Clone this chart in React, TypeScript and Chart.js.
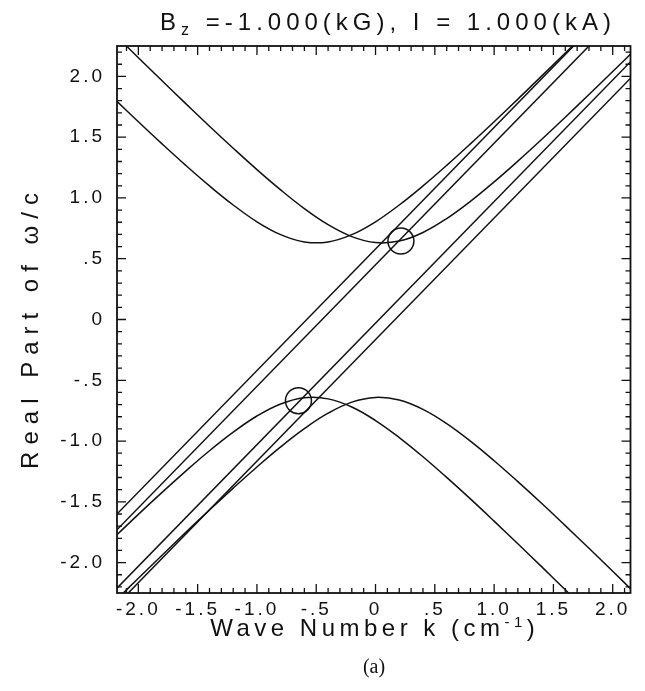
import React, { useEffect, useRef } from "react";
import { Chart, registerables } from "chart.js";

Chart.register(...registerables);

// ---- data ----
const curveX = [-2.2, -2.0, -1.8, -1.6, -1.4, -1.2, -1.0, -0.8, -0.6, -0.4, -0.2, 0, 0.2, 0.4, 0.6, 0.8, 1.0, 1.2, 1.4, 1.6, 1.8, 2.0, 2.2];

// upper branch, minimum near k = 0.06
const upperA = [2.346, 2.154, 1.964, 1.776, 1.590, 1.409, 1.233, 1.066, 0.912, 0.780, 0.682, 0.633, 0.645, 0.716, 0.830, 0.972, 1.132, 1.303, 1.481, 1.664, 1.851, 2.040, 2.231];
// upper branch, minimum near k = -0.5
const upperB = [1.813, 1.627, 1.445, 1.268, 1.099, 0.942, 0.804, 0.698, 0.638, 0.638, 0.698, 0.804, 0.942, 1.099, 1.268, 1.445, 1.627, 1.813, 2.002, 2.192, 2.385, 2.58, 2.77];
// lower branch, maximum near k = 0.03
const lowerA = [-2.320, -2.129, -1.939, -1.751, -1.567, -1.387, -1.213, -1.048, -0.898, -0.771, -0.680, -0.641, -0.663, -0.740, -0.857, -1.001, -1.162, -1.334, -1.512, -1.696, -1.882, -2.071, -2.263];
// lower branch, maximum near k = -0.53
const lowerB = [-1.789, -1.603, -1.422, -1.247, -1.080, -0.927, -0.794, -0.695, -0.644, -0.653, -0.720, -0.831, -0.971, -1.129, -1.299, -1.476, -1.659, -1.845, -2.033, -2.224, -2.416, -2.61, -2.80];

// straight beam lines (end points)
const lineX = [-2.4, 2.4];
const beam1 = [-1.82, 2.98];
const beam2 = [-1.95, 2.85];
const beam3 = [-2.43, 2.37];
const beam4 = [-2.565, 2.235];

// circled crossings
const markX = [0.214, -0.65];
const markY = [0.645, -0.668];

const xTickValues = [-2, -1.5, -1, -0.5, 0, 0.5, 1, 1.5, 2];
const xTickLabels = ["-2.0", "-1.5", "-1.0", "-.5", "0", ".5", "1.0", "1.5", "2.0"];
const yTickValues = [-2, -1.5, -1, -0.5, 0, 0.5, 1, 1.5, 2];
const yTickLabels = ["-2.0", "-1.5", "-1.0", "-.5", "0", ".5", "1.0", "1.5", "2.0"];

const TITLE_MAIN = "B";
const TITLE_SUB = "z";
const TITLE_REST = " =-1.000(kG), I = 1.000(kA)";
const X_TITLE_MAIN = "Wave Number k (cm";
const X_TITLE_SUP = "-1";
const X_TITLE_END = ")";
const Y_TITLE = "Real Part of \u03C9/c";

const FONT = '"Liberation Sans", Arial, sans-serif';
const INK = "#111";

const W = 645;
const H = 691;

function pts(xs: number[], ys: number[]) {
  return xs.map((x, i) => ({ x, y: ys[i] }));
}

function drawRuns(ctx: any, runs: { t: string; font: string; dy: number }[], cx: number, base: number) {
  const widths = runs.map((r) => {
    ctx.font = r.font;
    return ctx.measureText(r.t).width;
  });
  const total = widths.reduce((a, b) => a + b, 0);
  let x0 = cx - total / 2;
  runs.forEach((r, i) => {
    ctx.font = r.font;
    ctx.fillText(r.t, x0, base + r.dy);
    x0 += widths[i];
  });
}

const framePlugin = {
  id: "framePlugin",
  beforeDraw(chart: any) {
    const ctx = chart.ctx;
    ctx.save();
    ctx.fillStyle = "#fff";
    ctx.fillRect(0, 0, chart.width, chart.height);
    ctx.restore();
    ctx.letterSpacing = "3px";
  },
  afterDraw(chart: any) {
    const ctx = chart.ctx;
    const { left, right, top, bottom } = chart.chartArea;
    const xs = chart.scales.x;
    const ys = chart.scales.y;
    ctx.save();
    ctx.strokeStyle = INK;
    ctx.lineWidth = 1.8;
    ctx.strokeRect(left, top, right - left, bottom - top);
    ctx.lineWidth = 1.3;
    ctx.beginPath();
    for (let i = -22; i <= 22; i++) {
      const v = i / 10;
      const major = i % 5 === 0;
      const len = major ? 9 : 5;
      const px = xs.getPixelForValue(v);
      if (px > left + 1 && px < right - 1) {
        ctx.moveTo(px, bottom);
        ctx.lineTo(px, bottom - len);
        ctx.moveTo(px, top);
        ctx.lineTo(px, top + len);
      }
      const py = ys.getPixelForValue(v);
      if (py > top + 1 && py < bottom - 1) {
        ctx.moveTo(left, py);
        ctx.lineTo(left + len, py);
        ctx.moveTo(right, py);
        ctx.lineTo(right - len, py);
      }
    }
    ctx.stroke();

    ctx.fillStyle = INK;
    ctx.textBaseline = "alphabetic";
    ctx.textAlign = "left";

    // chart title with subscript
    ctx.letterSpacing = "5px";
    drawRuns(
      ctx,
      [
        { t: TITLE_MAIN, font: `24px ${FONT}`, dy: 0 },
        { t: TITLE_SUB, font: `16px ${FONT}`, dy: 5 },
        { t: TITLE_REST, font: `24px ${FONT}`, dy: 0 },
      ],
      388,
      30
    );

    // x axis title with superscript
    ctx.letterSpacing = "4.5px";
    drawRuns(
      ctx,
      [
        { t: X_TITLE_MAIN, font: `24px ${FONT}`, dy: 0 },
        { t: X_TITLE_SUP, font: `15px ${FONT}`, dy: -9 },
        { t: X_TITLE_END, font: `24px ${FONT}`, dy: 0 },
      ],
      (left + right) / 2 + 1,
      636
    );

    // y axis title, rotated
    ctx.letterSpacing = "7px";
    ctx.save();
    ctx.translate(38, (top + bottom) / 2 + 8);
    ctx.rotate(-Math.PI / 2);
    drawRuns(ctx, [{ t: Y_TITLE, font: `24px ${FONT}`, dy: 0 }], 0, 0);
    ctx.restore();

    ctx.restore();
  },
};

export default function App() {
  const ref = useRef<HTMLCanvasElement | null>(null);

  useEffect(() => {
    if (!ref.current) return;
    const lineStyle = {
      borderColor: INK,
      borderWidth: 1.5,
      pointRadius: 0,
      fill: false,
      showLine: true,
    };
    const chart = new Chart(ref.current, {
      type: "scatter",
      data: {
        datasets: [
          { ...lineStyle, data: pts(curveX, upperA), tension: 0.4 },
          { ...lineStyle, data: pts(curveX, upperB), tension: 0.4 },
          { ...lineStyle, data: pts(curveX, lowerA), tension: 0.4 },
          { ...lineStyle, data: pts(curveX, lowerB), tension: 0.4 },
          { ...lineStyle, data: pts(lineX, beam1) },
          { ...lineStyle, data: pts(lineX, beam2) },
          { ...lineStyle, data: pts(lineX, beam3) },
          { ...lineStyle, data: pts(lineX, beam4) },
          {
            data: pts(markX, markY),
            showLine: false,
            pointRadius: 13,
            pointStyle: "circle",
            pointBorderColor: INK,
            pointBorderWidth: 1.5,
            pointBackgroundColor: "rgba(0,0,0,0)",
          },
        ],
      },
      options: {
        responsive: false,
        animation: false,
        events: [],
        layout: { padding: { top: 46, right: W - 637, left: 0, bottom: 0 } },
        plugins: { legend: { display: false }, tooltip: { enabled: false }, title: { display: false } },
        scales: {
          x: {
            type: "linear",
            min: -2.18,
            max: 2.15,
            grid: { display: false, drawTicks: false },
            border: { display: false },
            afterFit: (s: any) => {
              s.height = H - 593;
            },
            afterBuildTicks: (s: any) => {
              s.ticks = xTickValues.map((v) => ({ value: v }));
            },
            ticks: {
              color: INK,
              padding: 5,
              maxRotation: 0,
              autoSkip: false,
              font: { family: FONT, size: 19 },
              callback: (_v: any, i: number) => xTickLabels[i],
            },
            title: { display: false },
          },
          y: {
            type: "linear",
            min: -2.25,
            max: 2.25,
            grid: { display: false, drawTicks: false },
            border: { display: false },
            afterFit: (s: any) => {
              s.width = 117;
            },
            afterBuildTicks: (s: any) => {
              s.ticks = yTickValues.map((v) => ({ value: v }));
            },
            ticks: {
              color: INK,
              padding: 12,
              autoSkip: false,
              font: { family: FONT, size: 19 },
              callback: (_v: any, i: number) => yTickLabels[i],
            },
            title: { display: false },
          },
        },
      },
      plugins: [framePlugin],
    } as any);
    return () => chart.destroy();
  }, []);

  return (
    <div style={{ position: "absolute", left: 0, top: 0, width: W, height: H, background: "#fff" }}>
      <canvas ref={ref} width={W} height={H} style={{ display: "block" }} />
      <div
        style={{
          position: "absolute",
          left: 0,
          width: 2 * 374,
          top: 655,
          textAlign: "center",
          fontFamily: '"Liberation Serif", "Times New Roman", serif',
          fontSize: 20,
          color: INK,
        }}
      >
        (a)
      </div>
    </div>
  );
}
